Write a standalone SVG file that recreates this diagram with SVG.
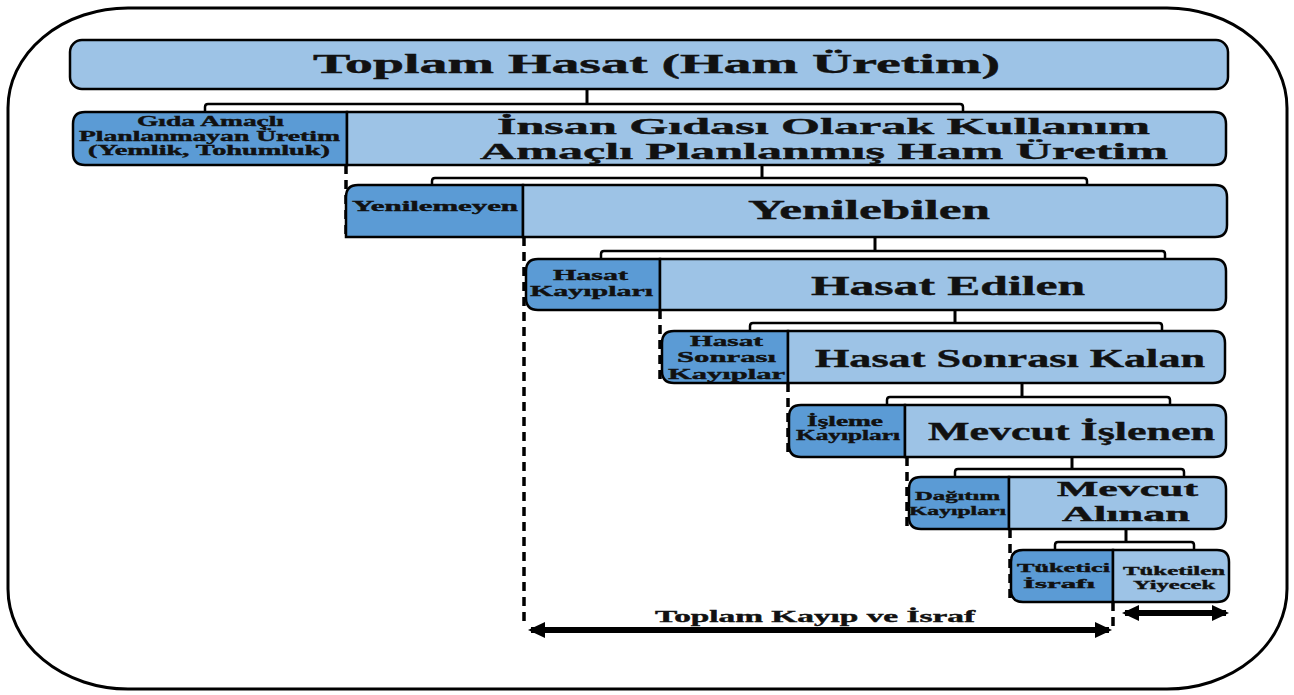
<svg xmlns="http://www.w3.org/2000/svg" width="1294" height="695" viewBox="0 0 1294 695">
<style>
.lt{fill:#9DC3E6;stroke:#000;stroke-width:2.5}
.dk{fill:#5B9BD5;stroke:#000;stroke-width:2.5}
.div{stroke:#000;stroke-width:3}
.br{fill:#fff;stroke:#000;stroke-width:2.5}
.dash{stroke:#000;stroke-width:3.5;stroke-dasharray:9 6;fill:none}
.t{font-family:"Liberation Serif","Times New Roman",serif;font-weight:bold;fill:#111;stroke:#111;stroke-width:0.4}
.arr{stroke:#000;stroke-width:6;marker-start:url(#ah);marker-end:url(#ah)}
</style>
<defs>
<marker id="ah" viewBox="0 0 17 16" refX="14" refY="8" markerWidth="17" markerHeight="16" markerUnits="userSpaceOnUse" orient="auto-start-reverse">
<path d="M0,0 L17,8 L0,16 Z" fill="#000"/>
</marker>
</defs>
<rect x="8" y="8" width="1279" height="681" rx="120" ry="100" fill="#fff" stroke="#000" stroke-width="3"/>

<g id="connectors">
<path class="br" d="M205,112 V107 Q205,104 208,104 H960 Q963,104 963,107 V112"/>
<line class="div" x1="587" y1="89" x2="587" y2="104"/>
<path class="br" d="M432,185 V181 Q432,178 435,178 H1084 Q1087,178 1087,181 V185"/>
<line class="div" x1="762" y1="165" x2="762" y2="178"/>
<path class="br" d="M601,259 V254 Q601,251 604,251 H1162 Q1165,251 1165,254 V259"/>
<line class="div" x1="875" y1="237" x2="875" y2="251"/>
<path class="br" d="M750,331 V326 Q750,323 753,323 H1159 Q1162,323 1162,326 V331"/>
<line class="div" x1="955" y1="310" x2="955" y2="323"/>
<path class="br" d="M887,405 V400 Q887,397 890,397 H1167 Q1170,397 1170,400 V405"/>
<line class="div" x1="1022" y1="383" x2="1022" y2="397"/>
<path class="br" d="M955,477 V472 Q955,469 958,469 H1181 Q1184,469 1184,472 V477"/>
<line class="div" x1="1072" y1="457" x2="1072" y2="469"/>
<path class="br" d="M1055,550 V545 Q1055,542 1058,542 H1191 Q1194,542 1194,545 V550"/>
<line class="div" x1="1126" y1="529" x2="1126" y2="542"/>
<line class="dash" x1="346" y1="165" x2="346" y2="237"/>
<line class="dash" x1="524" y1="237" x2="524" y2="627"/>
<line class="dash" x1="660" y1="310" x2="660" y2="383"/>
<line class="dash" x1="788" y1="383" x2="788" y2="457"/>
<line class="dash" x1="907" y1="457" x2="907" y2="529"/>
<line class="dash" x1="1010" y1="529" x2="1010" y2="602"/>
<line class="dash" x1="1113" y1="602" x2="1113" y2="630"/>
<line class="arr" x1="531" y1="630" x2="1109" y2="630"/>
<line class="arr" x1="1125" y1="613" x2="1226" y2="613"/>
</g>

<g id="n-toplam-hasat">
<rect class="lt" x="70" y="40" width="1158" height="49" rx="12"/>
<text class="t" x="313" y="73" font-size="27" textLength="687" lengthAdjust="spacingAndGlyphs">Toplam Hasat (Ham Üretim)</text>
</g>

<g id="n-gida-amacli">
<path class="dk" d="M347,112 H85 Q73,112 73,124 V153 Q73,165 85,165 H347 Z"/>
<text class="t" x="137" y="126" font-size="14" textLength="147" lengthAdjust="spacingAndGlyphs">Gıda Amaçlı</text>
<text class="t" x="79" y="141" font-size="14" textLength="261" lengthAdjust="spacingAndGlyphs">Planlanmayan Üretim</text>
<text class="t" x="88" y="155" font-size="14" textLength="242" lengthAdjust="spacingAndGlyphs">(Yemlik, Tohumluk)</text>
</g>
<g id="n-insan-gidasi">
<path class="lt" d="M347,112 H1214 Q1226,112 1226,124 V153 Q1226,165 1214,165 H347 Z"/>
<text class="t" x="497" y="134" font-size="24" textLength="653" lengthAdjust="spacingAndGlyphs">İnsan Gıdası Olarak Kullanım</text>
<text class="t" x="480" y="159" font-size="24" textLength="688" lengthAdjust="spacingAndGlyphs">Amaçlı Planlanmış Ham Üretim</text>
</g>

<g id="n-yenilemeyen">
<path class="dk" d="M523,185 H358 Q346,185 346,197 V237 H523 Z"/>
<text class="t" x="352" y="211" font-size="14" textLength="166" lengthAdjust="spacingAndGlyphs">Yenilemeyen</text>
</g>
<g id="n-yenilebilen">
<path class="lt" d="M523,185 H1215 Q1227,185 1227,197 V225 Q1227,237 1215,237 H523 Z"/>
<text class="t" x="748" y="219" font-size="27" textLength="242" lengthAdjust="spacingAndGlyphs">Yenilebilen</text>
</g>

<g id="n-hasat-kayiplari">
<path class="dk" d="M660,259 H538 Q526,259 526,271 V298 Q526,310 538,310 H660 Z"/>
<text class="t" x="553" y="280" font-size="15" textLength="75" lengthAdjust="spacingAndGlyphs">Hasat</text>
<text class="t" x="530" y="296" font-size="15" textLength="123" lengthAdjust="spacingAndGlyphs">Kayıpları</text>
</g>
<g id="n-hasat-edilen">
<path class="lt" d="M660,259 H1214 Q1226,259 1226,271 V298 Q1226,310 1214,310 H660 Z"/>
<text class="t" x="811" y="295" font-size="27" textLength="274" lengthAdjust="spacingAndGlyphs">Hasat Edilen</text>
</g>

<g id="n-hasat-sonrasi-kayiplar">
<path class="dk" d="M788,331 H674 Q662,331 662,343 V371 Q662,383 674,383 H788 Z"/>
<text class="t" x="690" y="346" font-size="15" textLength="73" lengthAdjust="spacingAndGlyphs">Hasat</text>
<text class="t" x="677" y="362" font-size="15" textLength="99" lengthAdjust="spacingAndGlyphs">Sonrası</text>
<text class="t" x="668" y="379" font-size="15" textLength="117" lengthAdjust="spacingAndGlyphs">Kayıplar</text>
</g>
<g id="n-hasat-sonrasi-kalan">
<path class="lt" d="M788,331 H1213 Q1225,331 1225,343 V371 Q1225,383 1213,383 H788 Z"/>
<text class="t" x="815" y="367" font-size="25" textLength="390" lengthAdjust="spacingAndGlyphs">Hasat Sonrası Kalan</text>
</g>

<g id="n-isleme-kayiplari">
<path class="dk" d="M905,405 H801 Q789,405 789,417 V445 Q789,457 801,457 H905 Z"/>
<text class="t" x="807" y="426" font-size="14" textLength="76" lengthAdjust="spacingAndGlyphs">İşleme</text>
<text class="t" x="796" y="440" font-size="14" textLength="104" lengthAdjust="spacingAndGlyphs">Kayıpları</text>
</g>
<g id="n-mevcut-islenen">
<path class="lt" d="M905,405 H1214 Q1226,405 1226,417 V445 Q1226,457 1214,457 H905 Z"/>
<text class="t" x="928" y="440" font-size="25" textLength="287" lengthAdjust="spacingAndGlyphs">Mevcut İşlenen</text>
</g>

<g id="n-dagitim-kayiplari">
<path class="dk" d="M1009,477 H921 Q909,477 909,489 V517 Q909,529 921,529 H1009 Z"/>
<text class="t" x="915" y="500" font-size="13" textLength="85" lengthAdjust="spacingAndGlyphs">Dağıtım</text>
<text class="t" x="909" y="515" font-size="13" textLength="97" lengthAdjust="spacingAndGlyphs">Kayıpları</text>
</g>
<g id="n-mevcut-alinan">
<path class="lt" d="M1009,477 H1214 Q1226,477 1226,489 V517 Q1226,529 1214,529 H1009 Z"/>
<text class="t" x="1057" y="496" font-size="21" textLength="141" lengthAdjust="spacingAndGlyphs">Mevcut</text>
<text class="t" x="1062" y="521" font-size="21" textLength="128" lengthAdjust="spacingAndGlyphs">Alınan</text>
</g>

<g id="n-tuketici-israfi">
<path class="dk" d="M1113,550 H1023 Q1011,550 1011,562 V590 Q1011,602 1023,602 H1113 Z"/>
<text class="t" x="1017" y="572" font-size="13" textLength="93" lengthAdjust="spacingAndGlyphs">Tüketici</text>
<text class="t" x="1023" y="588" font-size="13" textLength="72" lengthAdjust="spacingAndGlyphs">İsrafı</text>
</g>
<g id="n-tuketilen-yiyecek">
<path class="lt" d="M1113,550 H1217 Q1229,550 1229,562 V590 Q1229,602 1217,602 H1113 Z"/>
<text class="t" x="1123" y="575" font-size="13" textLength="102" lengthAdjust="spacingAndGlyphs">Tüketilen</text>
<text class="t" x="1133" y="589" font-size="13" textLength="82" lengthAdjust="spacingAndGlyphs">Yiyecek</text>
</g>

<g id="label-toplam-kayip">
<text class="t" x="655" y="622" font-size="17" textLength="320" lengthAdjust="spacingAndGlyphs">Toplam Kayıp ve İsraf</text>
</g>
</svg>
